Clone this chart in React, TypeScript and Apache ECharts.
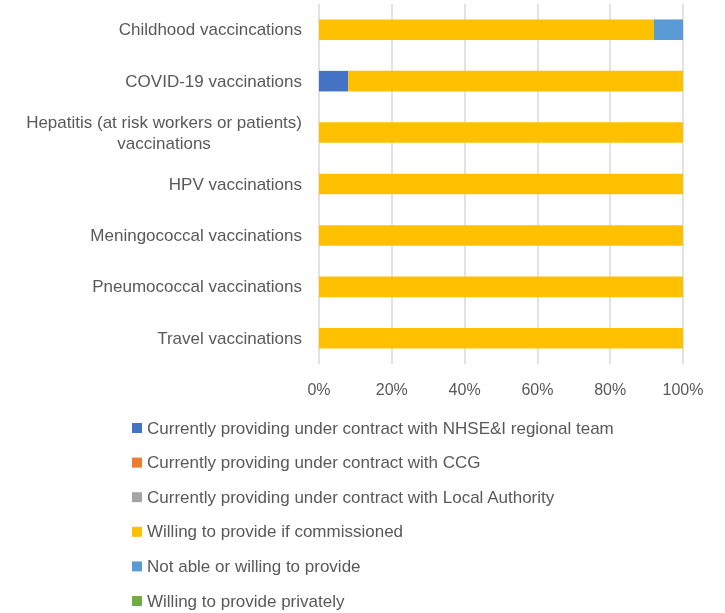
import React, { useEffect, useRef } from "react";
import * as echarts from "echarts";

const categories = [
  "Childhood vaccincations",
  "COVID-19 vaccinations",
  "Hepatitis (at risk workers or patients)\nvaccinations",
  "HPV vaccinations",
  "Meningococcal vaccinations",
  "Pneumococcal vaccinations",
  "Travel vaccinations",
];

const seriesNames = [
  "Currently providing under contract with NHSE&I regional team",
  "Currently providing under contract with CCG",
  "Currently providing under contract with Local Authority",
  "Willing to provide if commissioned",
  "Not able or willing to provide",
  "Willing to provide privately",
];

const nhseValues = [0, 8, 0, 0, 0, 0, 0];
const ccgValues = [0, 0, 0, 0, 0, 0, 0];
const localAuthorityValues = [0, 0, 0, 0, 0, 0, 0];
const willingValues = [92, 92, 100, 100, 100, 100, 100];
const notAbleValues = [8, 0, 0, 0, 0, 0, 0];
const privatelyValues = [0, 0, 0, 0, 0, 0, 0];

const xTicks = [0, 20, 40, 60, 80, 100];

const colors = ["#4472C4", "#ED7D31", "#A5A5A5", "#FFC000", "#5B9BD5", "#70AD47"];

const FONT = "Liberation Sans";
const TEXT = "#595959";

export default function App() {
  const ref = useRef<HTMLDivElement>(null);
  useEffect(() => {
    if (!ref.current) return;
    const chart = echarts.init(ref.current, undefined, { renderer: "svg" });
    const allValues = [
      nhseValues,
      ccgValues,
      localAuthorityValues,
      willingValues,
      notAbleValues,
      privatelyValues,
    ];
    chart.setOption({
      animation: false,
      color: colors,
      textStyle: { fontFamily: FONT },
      grid: { left: 319, right: 42, top: 4, bottom: 249, containLabel: false },
      xAxis: {
        type: "value",
        min: xTicks[0],
        max: xTicks[xTicks.length - 1],
        interval: 20,
        axisLine: { show: false },
        axisTick: { show: false },
        splitLine: { show: true, lineStyle: { color: "#D9D9D9", width: 1.5 } },
        axisLabel: {
          formatter: "{value}%",
          color: TEXT,
          fontSize: 16,
          fontFamily: FONT,
          margin: 17,
        },
      },
      yAxis: {
        type: "category",
        data: categories,
        inverse: true,
        axisLine: { show: false },
        axisTick: { show: false },
        axisLabel: {
          color: TEXT,
          fontSize: 17,
          fontFamily: FONT,
          margin: 17,
          lineHeight: 21,
          formatter: (v: string) =>
            v
              .split("\n")
              .map((l) => "{c|" + l + "}")
              .join("\n"),
          rich: {
            c: {
              align: "center",
              color: TEXT,
              fontSize: 17,
              fontFamily: FONT,
              lineHeight: 21,
            },
          },
        },
      },
      legend: {
        orient: "vertical",
        left: 127,
        top: 413,
        height: 240,
        itemWidth: 10,
        itemHeight: 10,
        itemGap: 14.6,
        icon: "rect",
        data: seriesNames,
        textStyle: {
          color: TEXT,
          fontSize: 17,
          fontFamily: FONT,
          lineHeight: 20,
        },
      },
      series: seriesNames.map((name, i) => ({
        name,
        type: "bar",
        stack: "total",
        barWidth: "40%",
        data: allValues[i],
      })),
    });
    return () => chart.dispose();
  }, []);
  return (
    <div
      ref={ref}
      style={{ position: "fixed", left: 0, top: 0, width: 725, height: 613 }}
    />
  );
}
